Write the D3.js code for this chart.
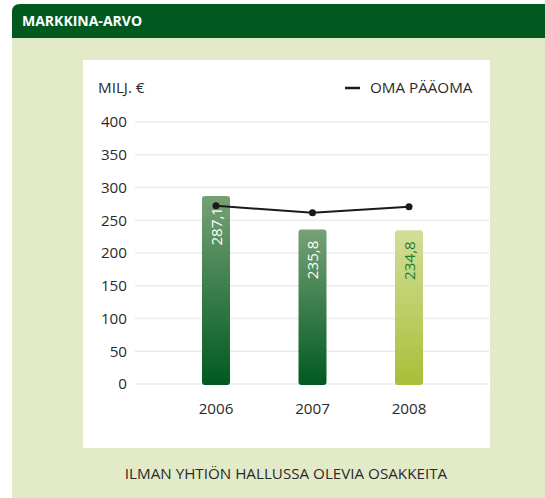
<!DOCTYPE html>
<html><head><meta charset="utf-8">
<script src="https://cdn.jsdelivr.net/npm/d3@7"></script>
<style>
html,body{margin:0;padding:0;background:#fff;}
svg{display:block;font-family:"Open Sans","Noto Sans",sans-serif;}
</style></head>
<body><svg id="c" width="545" height="498"></svg>
<script>
const years = ["2006","2007","2008"];
const marketValue = [287.1, 235.8, 234.8];
const equity = [272, 261.5, 270.5];
const valueLabels = ["287,1","235,8","234,8"];
const yTicks = [0,50,100,150,200,250,300,350,400];
const title = "MARKKINA-ARVO";
const unitLabel = "MILJ. €";
const legendLabel = "OMA PÄÄOMA";
const footnote = "ILMAN YHTIÖN HALLUSSA OLEVIA OSAKKEITA";

const FS = 15.2;
const svg = d3.select("#c");
// panel
svg.append("path").attr("d","M12,38 L12,12 Q12,4 20,4 L545,4 L545,38 Z").attr("fill","#005a20");
svg.append("rect").attr("x",12).attr("y",38).attr("width",533).attr("height",460).attr("fill","#e3eac8");
svg.append("text").attr("x",22).attr("y",26).attr("fill","#fff").attr("font-weight","bold").attr("font-size",14).text(title);
svg.append("rect").attr("x",83).attr("y",60).attr("width",407).attr("height",388).attr("fill","#fff");

const y = d3.scaleLinear().domain([0,400]).range([384,122]);
const x = d3.scalePoint().domain(years).range([216,409]);
const bw = 28;

// gridlines + ticks
svg.append("g").selectAll("line").data(yTicks).join("line")
  .attr("x1",135).attr("x2",489).attr("y1",d=>y(d)).attr("y2",d=>y(d))
  .attr("stroke","#ebebeb").attr("stroke-width",1.5);
const yAxis = d3.axisLeft(y).tickValues(yTicks).tickSize(0).tickPadding(8);
const gy = svg.append("g").attr("transform","translate(135,0)").call(yAxis);
gy.select(".domain").remove();
gy.selectAll("text").attr("font-size",FS).attr("fill","#2a2a2a").attr("font-family","'Open Sans','Noto Sans',sans-serif");

// gradients
const defs = svg.append("defs");
const grads = [["g0","#76a176","#005a20"],["g1","#76a176","#005a20"],["g2","#d2de98","#a8bf38"]];
grads.forEach(([id,a,b])=>{
  const g = defs.append("linearGradient").attr("id",id).attr("x1",0).attr("x2",0).attr("y1",0).attr("y2",1);
  g.append("stop").attr("offset","0%").attr("stop-color",a);
  g.append("stop").attr("offset","100%").attr("stop-color",b);
});

svg.append("g").selectAll("rect").data(marketValue).join("rect")
  .attr("x",(d,i)=>x(years[i])-bw/2).attr("y",d=>y(d)).attr("width",bw).attr("height",d=>y(0)-y(d)+1)
  .attr("rx",3).attr("fill",(d,i)=>`url(#g${i})`);

svg.append("g").selectAll("text").data(marketValue).join("text")
  .attr("transform",(d,i)=>`translate(${x(years[i])+5.5},${y(d)+11}) rotate(-90)`)
  .attr("text-anchor","end").attr("font-size",FS)
  .attr("fill",(d,i)=>i===2?"#1e7a2e":"#fff").text((d,i)=>valueLabels[i]);

// line
const line = d3.line().x((d,i)=>x(years[i])).y(d=>y(d));
svg.append("path").datum(equity).attr("d",line).attr("fill","none").attr("stroke","#1a1a1a").attr("stroke-width",2);
svg.append("g").selectAll("circle").data(equity).join("circle")
  .attr("cx",(d,i)=>x(years[i])).attr("cy",d=>y(d)).attr("r",3.5).attr("fill","#1a1a1a");

// x labels
svg.append("g").selectAll("text").data(years).join("text")
  .attr("x",d=>x(d)).attr("y",414).attr("text-anchor","middle").attr("font-size",FS).attr("fill","#2a2a2a").text(d=>d);

// unit & legend
svg.append("text").attr("x",98).attr("y",93).attr("font-size",FS).attr("fill","#2a2a2a").text(unitLabel);
svg.append("line").attr("x1",345).attr("x2",360).attr("y1",88).attr("y2",88).attr("stroke","#1a1a1a").attr("stroke-width",2.5);
svg.append("text").attr("x",370).attr("y",93).attr("font-size",FS).attr("fill","#2a2a2a").text(legendLabel);

svg.append("text").attr("x",286).attr("y",479).attr("text-anchor","middle").attr("font-size",FS).attr("fill","#2a2a2a").text(footnote);
</script></body></html>
